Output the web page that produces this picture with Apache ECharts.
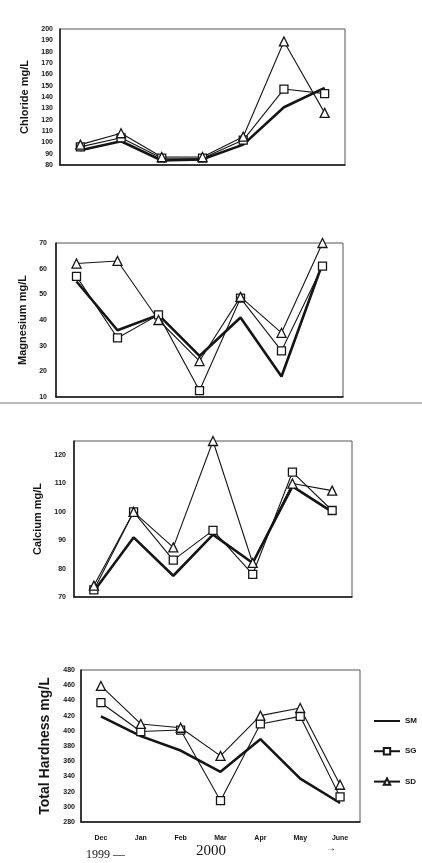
<!DOCTYPE html>
<html><head><meta charset="utf-8">
<script src="https://cdn.jsdelivr.net/npm/echarts@6/dist/echarts.min.js"></script>
<style>html,body{margin:0;padding:0;background:#fff}#c{width:422px;height:863px}</style>
</head><body><div id="c"></div>
<script>
const months = ['Dec','Jan','Feb','Mar','Apr','May','June'];
const seriesNames = ['SM','SG','SD'];

// Chloride mg/L
const chlorideSM = [93, 101, 84, 85, 98, 131, 148];
const chlorideSG = [96, 104, 86, 86, 102, 147, 143];
const chlorideSD = [98, 108, 87, 87, 105, 189, 126];
// Magnesium mg/L
const magnesiumSM = [55, 36, 42, 26, 41, 18, 62];
const magnesiumSG = [57, 33, 42, 12.5, 48.5, 28, 61];
const magnesiumSD = [62, 63, 40, 24, 49, 35, 70];
// Calcium mg/L
const calciumSM = [72, 91, 77.5, 92, 82, 109, 100];
const calciumSG = [72.5, 100, 83, 93.5, 78, 114, 100.5];
const calciumSD = [74, 100, 87.5, 125, 82, 110, 107.5];
// Total Hardness mg/L
const hardnessSM = [419, 393, 374, 346, 389, 337, 305];
const hardnessSG = [437, 399, 401, 308, 409, 419, 313];
const hardnessSD = [459, 409, 404, 367, 420, 430, 329];

const yearLabels = ['1999 \u2014', '2000', '\u2192'];

const charts = [
  {name:'Chloride mg/L', min:80, max:200, interval:10, data:[chlorideSM, chlorideSG, chlorideSD],
   grid:{left:60, right:77, top:29, bottom:698}, nameGap:30, nameSize:11, labelMargin:7, labelSize:7},
  {name:'Magnesium mg/L', min:10, max:70, interval:10, data:[magnesiumSM, magnesiumSG, magnesiumSD],
   grid:{left:56, right:79, top:243, bottom:466}, nameGap:18, nameSize:11, labelMargin:9, labelSize:7},
  {name:'Calcium mg/L', min:70, max:125, interval:10, data:[calciumSM, calciumSG, calciumSD],
   grid:{left:74, right:70, top:441, bottom:266}, nameGap:31, nameSize:11, labelMargin:8, labelSize:7},
  {name:'Total Hardness mg/L', min:280, max:480, interval:20, data:[hardnessSM, hardnessSG, hardnessSD],
   grid:{left:81, right:62, top:670, bottom:41}, nameGap:24, nameSize:14, labelMargin:6, labelSize:7}
];

const ink = '#151515';
const grids = [], xAxes = [], yAxes = [], series = [];
charts.forEach((c, i) => {
  grids.push(Object.assign({show:true, borderColor:'#555', borderWidth:1, backgroundColor:'transparent'}, c.grid));
  xAxes.push({type:'category', gridIndex:i, data:months, boundaryGap:true,
    axisLine:{show:true, lineStyle:{color:ink, width:1.5}},
    axisTick:{show:false},
    axisLabel:{show:i===3, fontSize:7, fontWeight:'bold', color:ink, margin:13, fontFamily:'Liberation Sans'}});
  yAxes.push({type:'value', gridIndex:i, min:c.min, max:c.max, interval:c.interval,
    name:c.name, nameLocation:'middle', nameGap:c.nameGap,
    nameTextStyle:{fontSize:c.nameSize, fontWeight:'bold', color:ink, fontFamily:'Liberation Sans'},
    axisLine:{show:true, lineStyle:{color:ink, width:1.5}},
    axisTick:{show:false}, splitLine:{show:false},
    axisLabel:{fontSize:c.labelSize, fontWeight:'bold', color:ink, margin:c.labelMargin, fontFamily:'Liberation Sans', showMaxLabel: i===2 ? false : true}});
  const [sm, sg, sd] = c.data;
  series.push({name:seriesNames[0], type:'line', xAxisIndex:i, yAxisIndex:i, data:sm, symbol:'none',
    lineStyle:{color:ink, width:2.6}, itemStyle:{color:ink}});
  series.push({name:seriesNames[1], type:'line', xAxisIndex:i, yAxisIndex:i, data:sg, symbol:'rect', symbolSize:8,
    lineStyle:{color:ink, width:1.1}, itemStyle:{color:'#fff', borderColor:ink, borderWidth:1.3}});
  series.push({name:seriesNames[2], type:'line', xAxisIndex:i, yAxisIndex:i, data:sd, symbol:'triangle', symbolSize:9,
    lineStyle:{color:ink, width:1.1}, itemStyle:{color:'#fff', borderColor:ink, borderWidth:1.3}});
});

const chart = echarts.init(document.getElementById('c'), null, {renderer:'canvas'});
chart.setOption({
  backgroundColor:'#fff',
  animation:false,
  grid:grids, xAxis:xAxes, yAxis:yAxes, series:series,
  legend:{orient:'vertical', left:368, top:712, itemGap:22, itemWidth:26, itemHeight:8,
    data:[{name:seriesNames[0], itemStyle:{opacity:0}}, seriesNames[1], seriesNames[2]],
    textStyle:{fontSize:8, fontWeight:'bold', color:ink, fontFamily:'Liberation Sans'}},
  graphic:[
    {type:'line', shape:{x1:0, y1:403, x2:422, y2:403}, style:{stroke:'#777', lineWidth:1.2}},
    {type:'text', left:86, top:849, style:{text:yearLabels[0], font:'12px "Liberation Serif"', fill:ink}},
    {type:'text', left:196, top:844, style:{text:yearLabels[1], font:'15px "Liberation Serif"', fill:ink}},
    {type:'text', left:326, top:843, style:{text:yearLabels[2], font:'bold 10px "Liberation Sans"', fill:ink}}
  ]
});
</script></body></html>
